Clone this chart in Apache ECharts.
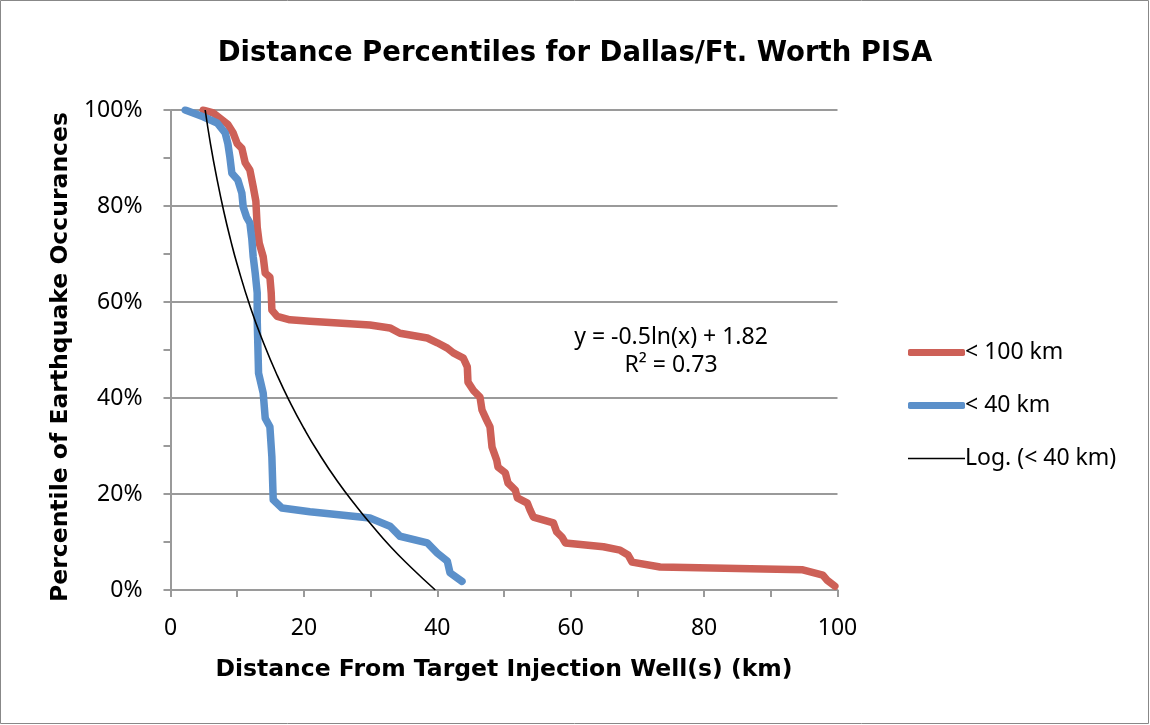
<!DOCTYPE html>
<html>
<head>
<meta charset="utf-8">
<script src="https://cdn.jsdelivr.net/npm/echarts@6/dist/echarts.min.js"></script>
<style>
  html, body { margin: 0; padding: 0; background: #fff; }
  #chart { width: 1150px; height: 725px; }
</style>
</head>
<body>
<div id="chart"></div>
<script>
  // < 100 km : distance (km) vs percentile (%)
  var far_km = [4.9, 6.4, 8.6, 9.4, 10, 10.7, 11.2, 11.9, 12.4, 12.8, 13, 13.3, 13.9, 14.2, 14.9, 15.1, 15.2, 16, 17.9, 20.9,
    29.9, 32.9, 34.4, 38.5, 40, 41.5, 42.4, 43.9, 44.5, 44.6, 45.4, 46.4, 46.7, 47.4, 47.9, 48.2, 48.9, 49.1, 50.2, 50.6,
    51.7, 52, 53.5, 53.9, 54.4, 57.4, 57.9, 58.7, 59.2, 64.9, 67.4, 68.6, 69.2, 73.4, 94.8, 97.8, 98.4, 99.6];
  var far_pct = [100, 99.4, 97, 95.2, 93, 92, 89, 87.5, 84, 81, 75.6, 72.3, 69.4, 66, 65.2, 61.9, 58.3, 57, 56.3, 56,
    55.2, 54.6, 53.5, 52.5, 51.5, 50.4, 49.4, 48.3, 46.5, 43.3, 41.6, 40.2, 37.5, 35.4, 34, 29.8, 27.1, 25.6, 24.4, 22.3,
    20.8, 19.2, 18.1, 16.7, 15.2, 14, 12.1, 11, 9.8, 9, 8.3, 7.3, 5.8, 4.8, 4.2, 3.1, 2.1, 0.8];

  // < 40 km
  var near_km = [2.2, 4.9, 7, 8.2, 8.6, 8.9, 9.2, 10.1, 10.7, 10.9, 11.4, 11.9, 12.2, 12.4, 12.7, 13, 13, 13.2, 13.9, 14.2,
    14.9, 15.2, 15.4, 16.7, 20.9, 29.9, 32.9, 34.4, 38.5, 40, 41.5, 41.9, 43.7];
  var near_pct = [100, 98.6, 97.3, 95.2, 93, 90.2, 86.8, 85.4, 82.7, 79.8, 77.7, 76.5, 73, 69.4, 66, 61.9, 56.3, 45.2, 41, 35.8,
    34, 27.7, 18.8, 17.1, 16.3, 15, 13.3, 11.2, 9.8, 7.7, 6, 3.6, 1.8];

  // Log. (< 40 km) trend line
  var trend_km = [5.2, 6, 7, 8, 9, 10, 12, 14, 16, 18, 20, 22, 25, 28, 30, 33, 36, 39.7];
  var trend_pct = [100, 92.9, 85.4, 78.8, 73, 67.8, 58.8, 51.3, 44.7, 38.9, 33.7, 29, 22.7, 17.2, 13.8, 9, 4.8, 0];

  var x_ticks = [0, 20, 40, 60, 80, 100];

  function pairs(xs, ys) {
    return xs.map(function (x, i) { return [x, ys[i]]; });
  }

  var bold = '"DejaVu Sans", sans-serif';
  var font = '"Noto Sans", sans-serif';
  var grey = '#9a9a9a';

  var myChart = echarts.init(document.getElementById('chart'));
  myChart.setOption({
    animation: false,
    backgroundColor: '#fff',
    title: {
      text: 'Distance Percentiles for Dallas/Ft. Worth PISA',
      left: 'center',
      top: 35,
      textStyle: { fontFamily: bold, fontSize: 27.5, fontWeight: 'bold', color: '#000' }
    },
    grid: { left: 170.5, right: 312.5, top: 110, bottom: 135 },
    legend: {
      orient: 'vertical',
      left: 903,
      top: 336,
      itemGap: 30,
      itemWidth: 57,
      itemHeight: 7,
      textStyle: { fontFamily: font, fontSize: 23, color: '#000', padding: [0, 0, 0, -5] },
      data: [
        { name: '< 100 km', icon: 'roundRect' },
        { name: '< 40 km', icon: 'roundRect' },
        { name: 'Log. (< 40 km)', icon: 'path://M0,0L60,0L60,1.6L0,1.6Z' }
      ]
    },
    xAxis: {
      type: 'value',
      min: 0,
      max: 100,
      interval: 10,
      name: 'Distance From Target Injection Well(s) (km)',
      nameLocation: 'middle',
      nameGap: 68,
      nameTextStyle: { fontFamily: bold, fontSize: 23.5, fontWeight: 'bold', color: '#000' },
      axisLine: { lineStyle: { color: grey, width: 2 } },
      axisTick: { show: true, length: 7, lineStyle: { color: grey, width: 2 } },
      axisLabel: {
        fontFamily: font, fontSize: 23, color: '#000', margin: 27,
        formatter: function (v) { return x_ticks.indexOf(v) >= 0 ? v : ''; }
      },
      splitLine: { show: false }
    },
    yAxis: {
      type: 'value',
      min: 0,
      max: 100,
      interval: 20,
      name: 'Percentile of Earthquake Occurances',
      nameLocation: 'middle',
      nameGap: 95,
      nameTextStyle: { fontFamily: bold, fontSize: 23.5, fontWeight: 'bold', color: '#000', padding: [0, 14, 0, 0] },
      axisLine: { show: true, lineStyle: { color: grey, width: 2 } },
      axisTick: { show: true, length: 7, lineStyle: { color: grey, width: 2 } },
      minorTick: { show: true, splitNumber: 2, length: 7, lineStyle: { color: grey, width: 2 } },
      axisLabel: { fontFamily: font, fontSize: 23, color: '#000', margin: 28, formatter: '{value}%' },
      splitLine: { lineStyle: { color: grey, width: 2 } }
    },
    series: [
      {
        name: '< 100 km',
        type: 'line',
        data: pairs(far_km, far_pct),
        symbol: 'none',
        color: '#CD6057',
        lineStyle: { width: 7.5, cap: 'round', join: 'round' }
      },
      {
        name: '< 40 km',
        type: 'line',
        data: pairs(near_km, near_pct),
        symbol: 'none',
        color: '#5B90CA',
        lineStyle: { width: 7.5, cap: 'round', join: 'round' }
      },
      {
        name: 'Log. (< 40 km)',
        type: 'line',
        data: pairs(trend_km, trend_pct),
        symbol: 'none',
        smooth: true,
        color: '#000',
        lineStyle: { width: 1.6 },
        z: 3
      }
    ],
    graphic: [
      {
        type: 'rect',
        shape: { x: 0.5, y: 0.5, width: 1148, height: 723 },
        style: { fill: 'none', stroke: '#888', lineWidth: 1 },
        silent: true
      },
      {
        type: 'text',
        x: 671, y: 351,
        style: {
          text: 'y = -0.5ln(x) + 1.82\nR² = 0.73',
          align: 'center', verticalAlign: 'middle',
          font: '23px ' + font, fill: '#000', lineHeight: 28
        },
        silent: true
      }
    ]
  });
</script>
</body>
</html>
